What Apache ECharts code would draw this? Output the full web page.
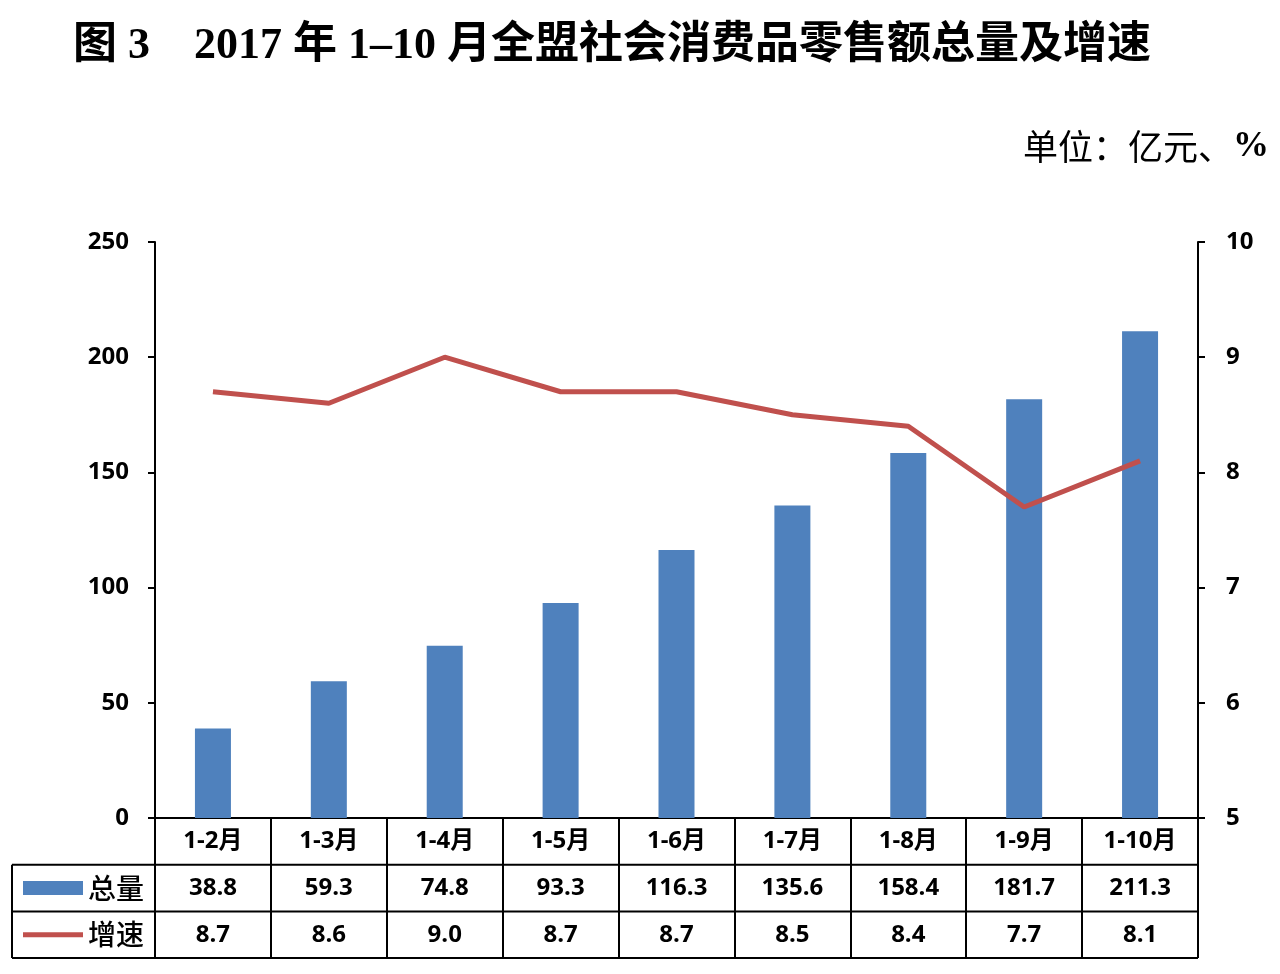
<!DOCTYPE html>
<html><head><meta charset="utf-8">
<script src="https://cdn.jsdelivr.net/npm/echarts@6/dist/echarts.min.js"></script>
<style>html,body{margin:0;padding:0;background:#fff}#c{width:1280px;height:974px}</style>
</head><body><div id="c"></div>
<script>
const categories = ['1-2月','1-3月','1-4月','1-5月','1-6月','1-7月','1-8月','1-9月','1-10月'];
const totalValues = [38.8, 59.3, 74.8, 93.3, 116.3, 135.6, 158.4, 181.7, 211.3];
const growthValues = [8.7, 8.6, 9.0, 8.7, 8.7, 8.5, 8.4, 7.7, 8.1];
const seriesNames = ['总量', '增速'];
const titleText = '图 3　2017 年 1–10 月全盟社会消费品零售额总量及增速';
const unitLabel = '单位：亿元、';
const unitPct = '%';

const G = {left:155, right:82, top:242, bottom:156};
const W = 1280, H = 974;
const axisY = H - G.bottom;      // 818
const rowH = 46.7;
const tableLeft = 12, tableRight = W - G.right;
const numFont = '"Open Sans", "Noto Sans CJK SC", sans-serif';
const BLUE = '#4F81BD', RED = '#C0504D';

const chart = echarts.init(document.getElementById('c'), null, {renderer:'canvas'});
const lines = [];
for (let i = 1; i <= 3; i++) {
  const y = axisY + rowH * i;
  lines.push({type:'line', shape:{x1:tableLeft, y1:y, x2:tableRight, y2:y}, style:{stroke:'#000', lineWidth:2}, z:10});
}
lines.push({type:'line', shape:{x1:tableLeft, y1:axisY+rowH, x2:tableLeft, y2:axisY+rowH*3}, style:{stroke:'#000', lineWidth:2}, z:10});
const legendY1 = axisY + rowH*1.5, legendY2 = axisY + rowH*2.5;
lines.push({type:'rect', shape:{x:23, y:legendY1-7, width:60, height:14}, style:{fill:BLUE}, z:10});
lines.push({type:'line', shape:{x1:23, y1:legendY2, x2:83, y2:legendY2}, style:{stroke:RED, lineWidth:5}, z:10});
lines.push({type:'text', x:88, y:legendY1, style:{text:seriesNames[0], font:'500 28px "Noto Sans CJK SC"', fill:'#000', verticalAlign:'middle'}, z:10});
lines.push({type:'text', x:88, y:legendY2, style:{text:seriesNames[1], font:'500 28px "Noto Sans CJK SC"', fill:'#000', verticalAlign:'middle'}, z:10});

chart.setOption({
  backgroundColor:'#fff',
  animation:false,
  title:[
    {text:titleText, left:68, top:20, textStyle:{fontFamily:'"Liberation Serif","Noto Sans CJK SC",serif', fontWeight:'bold', fontSize:44, color:'#000'}},
    {text:'{a|' + unitLabel + '}{b|' + unitPct + '}', right:6, top:124,
     textStyle:{rich:{
       a:{fontFamily:'"Noto Sans CJK SC",serif', fontWeight:'normal', fontSize:35, color:'#000'},
       b:{fontFamily:'"Liberation Serif",serif', fontWeight:'bold', fontSize:36, color:'#000'}}}}
  ],
  grid:{left:G.left, right:G.right, top:G.top, bottom:G.bottom, containLabel:false},
  xAxis:{
    type:'category', data:categories, boundaryGap:true,
    axisLine:{show:true, lineStyle:{color:'#000', width:2}},
    axisTick:{show:true, length:rowH*3, interval:0, lineStyle:{color:'#000', width:2}},
    axisLabel:{
      interval:0, margin:0,
      formatter:function(v, i){ return v + '\n' + totalValues[i].toFixed(1) + '\n' + growthValues[i].toFixed(1); },
      fontFamily:numFont, fontWeight:'bold', fontSize:24, color:'#000', lineHeight:rowH
    }
  },
  yAxis:[
    {type:'value', min:0, max:250, interval:50,
     axisLine:{show:true, lineStyle:{color:'#000', width:2}},
     axisTick:{show:true, length:7, lineStyle:{color:'#000', width:2}},
     splitLine:{show:false},
     axisLabel:{margin:26, fontFamily:numFont, fontWeight:'bold', fontSize:24, color:'#000'}},
    {type:'value', min:5, max:10, interval:1, position:'right',
     axisLine:{show:true, lineStyle:{color:'#000', width:2}},
     axisTick:{show:true, length:7, lineStyle:{color:'#000', width:2}},
     splitLine:{show:false},
     axisLabel:{margin:28, fontFamily:numFont, fontWeight:'bold', fontSize:24, color:'#000'}}
  ],
  series:[
    {name:seriesNames[0], type:'bar', data:totalValues, barWidth:36, itemStyle:{color:BLUE}, yAxisIndex:0},
    {name:seriesNames[1], type:'line', data:growthValues, yAxisIndex:1, symbol:'none', lineStyle:{color:RED, width:5}, itemStyle:{color:RED}, z:5}
  ],
  graphic:lines
});
</script></body></html>
